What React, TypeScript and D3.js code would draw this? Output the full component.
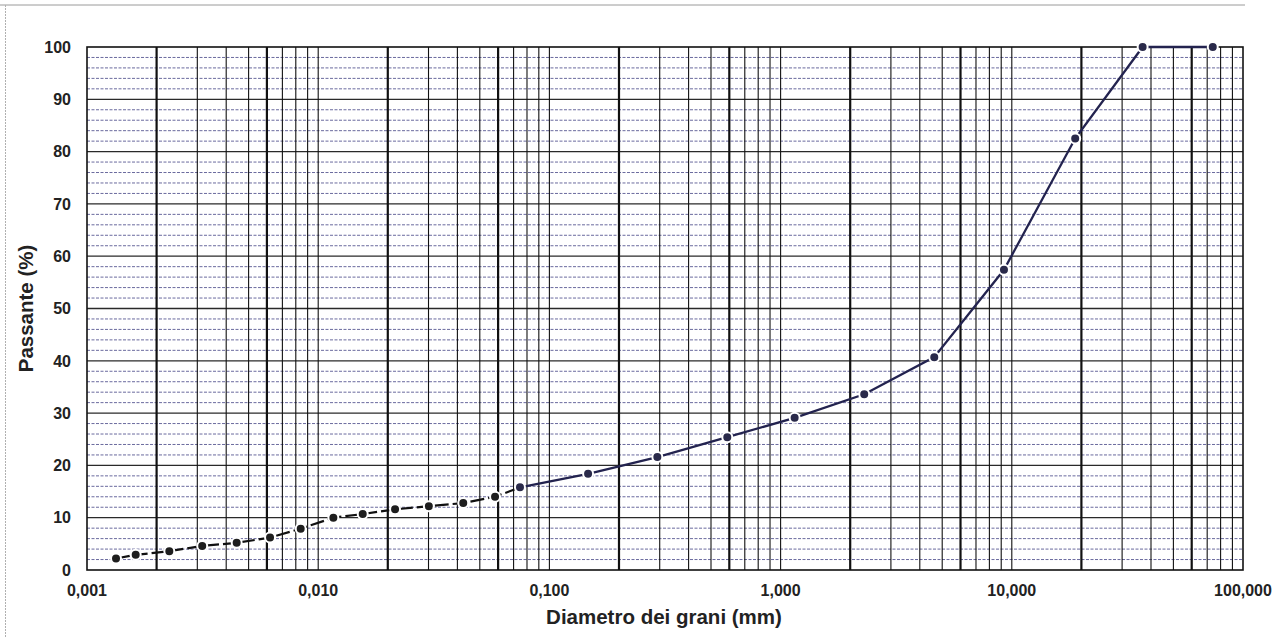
import React from "react";
import * as d3 from "d3";

const hydroD = [0.001335, 0.001624, 0.00227, 0.00315, 0.00444, 0.00619, 0.0084, 0.01163, 0.01558, 0.0215, 0.0301, 0.0424, 0.0582];
const hydroP = [2.2, 2.9, 3.6, 4.6, 5.2, 6.2, 7.9, 10.0, 10.7, 11.6, 12.2, 12.8, 14.0];
const sieveD = [0.0746, 0.147, 0.293, 0.588, 1.15, 2.3, 4.62, 9.25, 18.8, 36.8, 74];
const sieveP = [15.8, 18.4, 21.6, 25.4, 29.1, 33.6, 40.7, 57.4, 82.5, 100, 100];
const xTickVals = [0.001, 0.01, 0.1, 1, 10, 100];
const xTickLabels = ["0,001", "0,010", "0,100", "1,000", "10,000", "100,000"];
const yTickVals = [0, 10, 20, 30, 40, 50, 60, 70, 80, 90, 100];
const xTitle = "Diametro dei grani (mm)";
const yTitle = "Passante (%)";

const W = 1285, H = 638;
const L = 87, R = 1243, T = 47, B = 570;

export default function App() {
  const x = d3.scaleLog().domain([0.001, 100]).range([L, R]);
  const y = d3.scaleLinear().domain([0, 100]).range([B, T]);

  const vLines: { v: number; thick: boolean }[] = [];
  for (let e = -3; e < 2; e++) {
    for (let m = 2; m <= 9; m++) {
      vLines.push({ v: m * Math.pow(10, e), thick: m === 2 || m === 6 });
    }
    if (e > -3) vLines.push({ v: Math.pow(10, e), thick: false });
  }
  const minorY: number[] = [];
  for (let v = 2; v < 100; v += 2) if (v % 10 !== 0) minorY.push(v);
  const majorY = yTickVals.filter((v) => v > 0 && v < 100);

  const hydroPts = hydroD.map((d, i) => [d, hydroP[i]] as [number, number]);
  const sievePts = sieveD.map((d, i) => [d, sieveP[i]] as [number, number]);
  const line = d3.line<[number, number]>().x((p) => x(p[0])).y((p) => y(p[1]));
  const hydroLine = line([...hydroPts, sievePts[0]]) || "";
  const sieveLine = line(sievePts) || "";

  const font = "'Liberation Sans', Arial, sans-serif";

  return (
    <svg width={W} height={H} style={{ position: "absolute", left: 0, top: 0, background: "#fff" }} fontFamily={font}>
      <rect x={0} y={0} width={W} height={H} fill="#fff" />
      <line x1={0} y1={5} x2={1245} y2={5} stroke="#9a9a9a" strokeWidth={1} />
      <line x1={5.5} y1={5} x2={5.5} y2={H} stroke="#b0b0b0" strokeWidth={1} strokeDasharray="2,1" />

      {minorY.map((v) => (
        <line key={"my" + v} x1={L} x2={R} y1={y(v)} y2={y(v)} stroke="#6a6a9e" strokeWidth={1} strokeDasharray="3,1.5" />
      ))}
      {majorY.map((v) => (
        <line key={"My" + v} x1={L} x2={R} y1={y(v)} y2={y(v)} stroke="#2a2a2a" strokeWidth={1.3} />
      ))}
      {vLines.map((g, i) => (
        <line key={"v" + i} x1={x(g.v)} x2={x(g.v)} y1={T} y2={B} stroke="#111" strokeWidth={g.thick ? 2.2 : 1.1} />
      ))}
      <rect x={L} y={T} width={R - L} height={B - T} fill="none" stroke="#111" strokeWidth={1.6} />

      <path d={hydroLine} fill="none" stroke="#111" strokeWidth={2.2} strokeDasharray="14,4" />
      <path d={sieveLine} fill="none" stroke="#23234f" strokeWidth={2.3} />
      {hydroPts.map((p, i) => (
        <circle key={"h" + i} cx={x(p[0])} cy={y(p[1])} r={5} fill="#1e1e1e" stroke="#fff" strokeWidth={2} />
      ))}
      {sievePts.map((p, i) => (
        <circle key={"s" + i} cx={x(p[0])} cy={y(p[1])} r={5} fill="#2a2a4a" stroke="#fff" strokeWidth={2} />
      ))}

      {yTickVals.map((v) => (
        <text key={"yt" + v} x={71} y={y(v)} dy="0.36em" textAnchor="end" fontSize={16} fontWeight="bold" fill="#222">
          {v}
        </text>
      ))}
      {xTickVals.map((v, i) => (
        <text key={"xt" + v} x={x(v)} y={596} textAnchor="middle" fontSize={16} fontWeight="bold" fill="#222">
          {xTickLabels[i]}
        </text>
      ))}
      <text x={664} y={624} textAnchor="middle" fontSize={20.5} fontWeight="bold" fill="#222">
        {xTitle}
      </text>
      <text transform={`translate(33,${(T + B) / 2 - 0}) rotate(-90)`} textAnchor="middle" fontSize={20.5} fontWeight="bold" fill="#222">
        {yTitle}
      </text>
    </svg>
  );
}
